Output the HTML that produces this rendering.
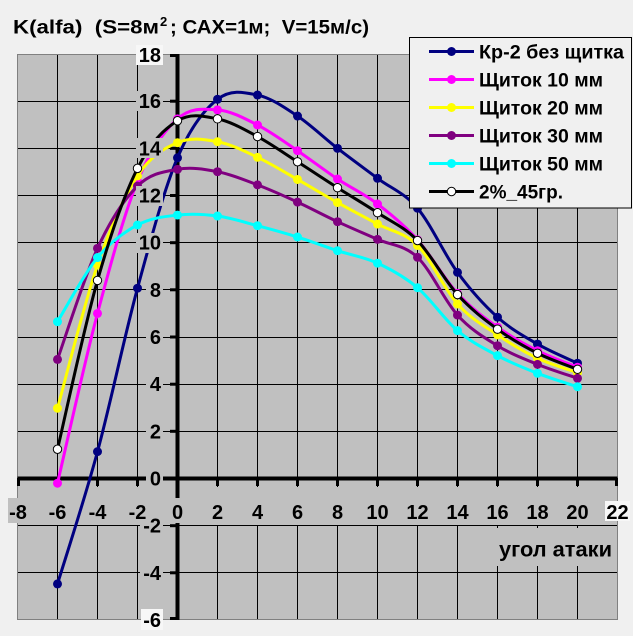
<!DOCTYPE html>
<html><head><meta charset="utf-8">
<style>
html,body{margin:0;padding:0;background:#f0f0f0;}
svg{display:block;}
text{font-family:"Liberation Sans","DejaVu Sans",sans-serif;font-weight:bold;fill:#000;}
</style></head>
<body>
<svg xmlns="http://www.w3.org/2000/svg" width="633" height="636" viewBox="0 0 633 636">
<rect x="0" y="0" width="633" height="636" fill="#f0f0f0"/>
<!-- plot area -->
<rect x="17.5" y="54" width="600" height="566" fill="#c0c0c0"/>
<!-- gridlines -->
<g stroke="#000" stroke-width="1" shape-rendering="crispEdges">
<line x1="57.5" y1="54" x2="57.5" y2="620"/>
<line x1="97.5" y1="54" x2="97.5" y2="620"/>
<line x1="137.5" y1="54" x2="137.5" y2="620"/>
<line x1="217.5" y1="54" x2="217.5" y2="620"/>
<line x1="257.5" y1="54" x2="257.5" y2="620"/>
<line x1="297.5" y1="54" x2="297.5" y2="620"/>
<line x1="337.5" y1="54" x2="337.5" y2="620"/>
<line x1="377.5" y1="54" x2="377.5" y2="620"/>
<line x1="417.5" y1="54" x2="417.5" y2="620"/>
<line x1="457.5" y1="54" x2="457.5" y2="620"/>
<line x1="497.5" y1="54" x2="497.5" y2="620"/>
<line x1="537.5" y1="54" x2="537.5" y2="620"/>
<line x1="577.5" y1="54" x2="577.5" y2="620"/>
<line x1="17.5" y1="101.5" x2="617.5" y2="101.5"/>
<line x1="17.5" y1="148.5" x2="617.5" y2="148.5"/>
<line x1="17.5" y1="195.5" x2="617.5" y2="195.5"/>
<line x1="17.5" y1="242.5" x2="617.5" y2="242.5"/>
<line x1="17.5" y1="289.5" x2="617.5" y2="289.5"/>
<line x1="17.5" y1="337.5" x2="617.5" y2="337.5"/>
<line x1="17.5" y1="384.5" x2="617.5" y2="384.5"/>
<line x1="17.5" y1="431.5" x2="617.5" y2="431.5"/>
<line x1="17.5" y1="525.5" x2="617.5" y2="525.5"/>
<line x1="17.5" y1="572.5" x2="617.5" y2="572.5"/>
</g>
<rect x="17.5" y="54.5" width="600" height="565" fill="none" stroke="#808080" stroke-width="1" shape-rendering="crispEdges"/>
<!-- label band breaks -->
<rect x="19" y="487" width="597" height="38" fill="#c0c0c0"/>
<rect x="493" y="528" width="124" height="38" fill="#c0c0c0"/>
<!-- axes -->
<g stroke="#000">
<line x1="17.5" y1="478.5" x2="617.5" y2="478.5" stroke-width="4"/>
<line x1="177.5" y1="54" x2="177.5" y2="620" stroke-width="4"/>
<g stroke-width="3">
<line x1="18.5" y1="478" x2="18.5" y2="486"/>
<line x1="57.5" y1="478" x2="57.5" y2="486"/>
<line x1="97.5" y1="478" x2="97.5" y2="486"/>
<line x1="137.5" y1="478" x2="137.5" y2="486"/>
<line x1="217.5" y1="478" x2="217.5" y2="486"/>
<line x1="257.5" y1="478" x2="257.5" y2="486"/>
<line x1="297.5" y1="478" x2="297.5" y2="486"/>
<line x1="337.5" y1="478" x2="337.5" y2="486"/>
<line x1="377.5" y1="478" x2="377.5" y2="486"/>
<line x1="417.5" y1="478" x2="417.5" y2="486"/>
<line x1="457.5" y1="478" x2="457.5" y2="486"/>
<line x1="497.5" y1="478" x2="497.5" y2="486"/>
<line x1="537.5" y1="478" x2="537.5" y2="486"/>
<line x1="577.5" y1="478" x2="577.5" y2="486"/>
<line x1="616.5" y1="478" x2="616.5" y2="486"/>
<line x1="170" y1="55.5" x2="178" y2="55.5"/>
<line x1="170" y1="101.2" x2="178" y2="101.2"/>
<line x1="170" y1="148.3" x2="178" y2="148.3"/>
<line x1="170" y1="195.5" x2="178" y2="195.5"/>
<line x1="170" y1="242.7" x2="178" y2="242.7"/>
<line x1="170" y1="289.8" x2="178" y2="289.8"/>
<line x1="170" y1="337" x2="178" y2="337"/>
<line x1="170" y1="384.2" x2="178" y2="384.2"/>
<line x1="170" y1="431.3" x2="178" y2="431.3"/>
<line x1="170" y1="525.7" x2="178" y2="525.7"/>
<line x1="170" y1="572.8" x2="178" y2="572.8"/>
<line x1="170" y1="618.5" x2="178" y2="618.5"/>
</g>
</g>
<!-- x label "0" box breaks y-axis; y label "0" box breaks x-axis -->
<rect x="171" y="498" width="14" height="25" fill="#c0c0c0"/>
<rect x="146" y="469" width="17" height="19" fill="#c0c0c0"/>

<!-- series in data coordinates -->
<g transform="matrix(20 0 0 -23.583 177.5 478.5)" stroke-linejoin="round" stroke-linecap="round">
<path id="s0" fill="none" stroke="#000080" stroke-width="3" vector-effect="non-scaling-stroke" d="M-6 -4.47 L-4 1.14 L-2 8.07 L0 13.6 L2 16.08 L4 16.26 L6 15.37 L8 14.0 L10 12.73 L12 11.46 L14 8.74 L16 6.84 L18 5.70 L20 4.89"/>
<g fill="#000080">
<ellipse cx="-6" cy="-4.47" rx="0.225" ry="0.19"/><ellipse cx="-4" cy="1.14" rx="0.225" ry="0.19"/><ellipse cx="-2" cy="8.07" rx="0.225" ry="0.19"/><ellipse cx="0" cy="13.6" rx="0.225" ry="0.19"/><ellipse cx="2" cy="16.08" rx="0.225" ry="0.19"/><ellipse cx="4" cy="16.26" rx="0.225" ry="0.19"/><ellipse cx="6" cy="15.37" rx="0.225" ry="0.19"/><ellipse cx="8" cy="14.0" rx="0.225" ry="0.19"/><ellipse cx="10" cy="12.73" rx="0.225" ry="0.19"/><ellipse cx="12" cy="11.46" rx="0.225" ry="0.19"/><ellipse cx="14" cy="8.74" rx="0.225" ry="0.19"/><ellipse cx="16" cy="6.84" rx="0.225" ry="0.19"/><ellipse cx="18" cy="5.70" rx="0.225" ry="0.19"/><ellipse cx="20" cy="4.89" rx="0.225" ry="0.19"/>
</g>
<path id="s1" fill="none" stroke="#ff00ff" stroke-width="3" vector-effect="non-scaling-stroke" d="M-6 -0.2 L-4 7.0 L-2 12.6 L0 15.25 L2 15.63 L4 14.99 L6 13.9 L8 12.7 L10 11.64 L12 10.12 L14 7.85 L16 6.42 L18 5.42 L20 4.72"/>
<g fill="#ff00ff">
<ellipse cx="-6" cy="-0.2" rx="0.225" ry="0.19"/><ellipse cx="-4" cy="7.0" rx="0.225" ry="0.19"/><ellipse cx="-2" cy="12.6" rx="0.225" ry="0.19"/><ellipse cx="0" cy="15.25" rx="0.225" ry="0.19"/><ellipse cx="2" cy="15.63" rx="0.225" ry="0.19"/><ellipse cx="4" cy="14.99" rx="0.225" ry="0.19"/><ellipse cx="6" cy="13.9" rx="0.225" ry="0.19"/><ellipse cx="8" cy="12.7" rx="0.225" ry="0.19"/><ellipse cx="10" cy="11.64" rx="0.225" ry="0.19"/><ellipse cx="12" cy="10.12" rx="0.225" ry="0.19"/><ellipse cx="14" cy="7.85" rx="0.225" ry="0.19"/><ellipse cx="16" cy="6.42" rx="0.225" ry="0.19"/><ellipse cx="18" cy="5.42" rx="0.225" ry="0.19"/><ellipse cx="20" cy="4.72" rx="0.225" ry="0.19"/>
</g>
<path id="s2" fill="none" stroke="#ffff00" stroke-width="3" vector-effect="non-scaling-stroke" d="M-6 2.98 L-4 9.05 L-2 12.83 L0 14.24 L2 14.28 L4 13.62 L6 12.68 L8 11.7 L10 10.79 L12 9.88 L14 7.4 L16 6.09 L18 5.1 L20 4.49"/>
<g fill="#ffff00">
<ellipse cx="-6" cy="2.98" rx="0.225" ry="0.19"/><ellipse cx="-4" cy="9.05" rx="0.225" ry="0.19"/><ellipse cx="-2" cy="12.83" rx="0.225" ry="0.19"/><ellipse cx="0" cy="14.24" rx="0.225" ry="0.19"/><ellipse cx="2" cy="14.28" rx="0.225" ry="0.19"/><ellipse cx="4" cy="13.62" rx="0.225" ry="0.19"/><ellipse cx="6" cy="12.68" rx="0.225" ry="0.19"/><ellipse cx="8" cy="11.7" rx="0.225" ry="0.19"/><ellipse cx="10" cy="10.79" rx="0.225" ry="0.19"/><ellipse cx="12" cy="9.88" rx="0.225" ry="0.19"/><ellipse cx="14" cy="7.4" rx="0.225" ry="0.19"/><ellipse cx="16" cy="6.09" rx="0.225" ry="0.19"/><ellipse cx="18" cy="5.1" rx="0.225" ry="0.19"/><ellipse cx="20" cy="4.49" rx="0.225" ry="0.19"/>
</g>
<path id="s3" fill="none" stroke="#800080" stroke-width="3" vector-effect="non-scaling-stroke" d="M-6 5.05 L-4 9.76 L-2 12.4 L0 13.11 L2 13.01 L4 12.45 L6 11.72 L8 10.89 L10 10.14 L12 9.38 L14 6.93 L16 5.63 L18 4.84 L20 4.25"/>
<g fill="#800080">
<ellipse cx="-6" cy="5.05" rx="0.225" ry="0.19"/><ellipse cx="-4" cy="9.76" rx="0.225" ry="0.19"/><ellipse cx="-2" cy="12.4" rx="0.225" ry="0.19"/><ellipse cx="0" cy="13.11" rx="0.225" ry="0.19"/><ellipse cx="2" cy="13.01" rx="0.225" ry="0.19"/><ellipse cx="4" cy="12.45" rx="0.225" ry="0.19"/><ellipse cx="6" cy="11.72" rx="0.225" ry="0.19"/><ellipse cx="8" cy="10.89" rx="0.225" ry="0.19"/><ellipse cx="10" cy="10.14" rx="0.225" ry="0.19"/><ellipse cx="12" cy="9.38" rx="0.225" ry="0.19"/><ellipse cx="14" cy="6.93" rx="0.225" ry="0.19"/><ellipse cx="16" cy="5.63" rx="0.225" ry="0.19"/><ellipse cx="18" cy="4.84" rx="0.225" ry="0.19"/><ellipse cx="20" cy="4.25" rx="0.225" ry="0.19"/>
</g>
<path id="s4" fill="none" stroke="#00ffff" stroke-width="3" vector-effect="non-scaling-stroke" d="M-6 6.65 L-4 9.37 L-2 10.75 L0 11.17 L2 11.13 L4 10.72 L6 10.24 L8 9.66 L10 9.13 L12 8.09 L14 6.27 L16 5.21 L18 4.46 L20 3.89"/>
<g fill="#00ffff">
<ellipse cx="-6" cy="6.65" rx="0.225" ry="0.19"/><ellipse cx="-4" cy="9.37" rx="0.225" ry="0.19"/><ellipse cx="-2" cy="10.75" rx="0.225" ry="0.19"/><ellipse cx="0" cy="11.17" rx="0.225" ry="0.19"/><ellipse cx="2" cy="11.13" rx="0.225" ry="0.19"/><ellipse cx="4" cy="10.72" rx="0.225" ry="0.19"/><ellipse cx="6" cy="10.24" rx="0.225" ry="0.19"/><ellipse cx="8" cy="9.66" rx="0.225" ry="0.19"/><ellipse cx="10" cy="9.13" rx="0.225" ry="0.19"/><ellipse cx="12" cy="8.09" rx="0.225" ry="0.19"/><ellipse cx="14" cy="6.27" rx="0.225" ry="0.19"/><ellipse cx="16" cy="5.21" rx="0.225" ry="0.19"/><ellipse cx="18" cy="4.46" rx="0.225" ry="0.19"/><ellipse cx="20" cy="3.89" rx="0.225" ry="0.19"/>
</g>
<path id="s5" fill="none" stroke="#000000" stroke-width="3" vector-effect="non-scaling-stroke" d="M-6 1.24 L-4 8.4 L-2 13.15 L0 15.17 L2 15.25 L4 14.5 L6 13.43 L8 12.33 L10 11.27 L12 10.09 L14 7.8 L16 6.33 L18 5.31 L20 4.63"/>
<g fill="#ffffff" stroke="#000" stroke-width="1" vector-effect="non-scaling-stroke">
<ellipse cx="-6" cy="1.24" rx="0.21" ry="0.178" vector-effect="non-scaling-stroke"/><ellipse cx="-4" cy="8.4" rx="0.21" ry="0.178" vector-effect="non-scaling-stroke"/><ellipse cx="-2" cy="13.15" rx="0.21" ry="0.178" vector-effect="non-scaling-stroke"/><ellipse cx="0" cy="15.17" rx="0.21" ry="0.178" vector-effect="non-scaling-stroke"/><ellipse cx="2" cy="15.25" rx="0.21" ry="0.178" vector-effect="non-scaling-stroke"/><ellipse cx="4" cy="14.5" rx="0.21" ry="0.178" vector-effect="non-scaling-stroke"/><ellipse cx="6" cy="13.43" rx="0.21" ry="0.178" vector-effect="non-scaling-stroke"/><ellipse cx="8" cy="12.33" rx="0.21" ry="0.178" vector-effect="non-scaling-stroke"/><ellipse cx="10" cy="11.27" rx="0.21" ry="0.178" vector-effect="non-scaling-stroke"/><ellipse cx="12" cy="10.09" rx="0.21" ry="0.178" vector-effect="non-scaling-stroke"/><ellipse cx="14" cy="7.8" rx="0.21" ry="0.178" vector-effect="non-scaling-stroke"/><ellipse cx="16" cy="6.33" rx="0.21" ry="0.178" vector-effect="non-scaling-stroke"/><ellipse cx="18" cy="5.31" rx="0.21" ry="0.178" vector-effect="non-scaling-stroke"/><ellipse cx="20" cy="4.63" rx="0.21" ry="0.178" vector-effect="non-scaling-stroke"/>
</g>
</g>

<!-- y-axis labels -->
<rect x="136" y="45" width="27" height="20" fill="#f7f7f7"/>
<g fill="#c0c0c0">
<rect x="136" y="91" width="27" height="20"/>
<rect x="136" y="138" width="27" height="20"/>
<rect x="136" y="186" width="27" height="20"/>
<rect x="136" y="233" width="27" height="20"/>
<rect x="146" y="280" width="17" height="20"/>
<rect x="146" y="327" width="17" height="20"/>
<rect x="146" y="374" width="17" height="20"/>
<rect x="146" y="421" width="17" height="20"/>
<rect x="140" y="516" width="23" height="20"/>
<rect x="140" y="563" width="23" height="20"/>
</g>
<rect x="141" y="609" width="22" height="21" fill="#f7f7f7"/>
<g font-size="20" text-anchor="end">
<text x="161" y="62">18</text>
<text x="161" y="108.2">16</text>
<text x="161" y="155.3">14</text>
<text x="161" y="202.5">12</text>
<text x="161" y="249.7">10</text>
<text x="161" y="296.8">8</text>
<text x="161" y="344">6</text>
<text x="161" y="391.2">4</text>
<text x="161" y="438.3">2</text>
<text x="161" y="485.5">0</text>
<text x="161" y="532.7">-2</text>
<text x="161" y="579.8">-4</text>
<text x="161" y="627">-6</text>
</g>

<!-- x-axis labels -->
<rect x="8" y="498" width="20" height="25" fill="#c0c0c0"/>
<rect x="605" y="501" width="25" height="20" fill="#f7f7f7"/>
<g font-size="20" text-anchor="middle">
<text x="18" y="519">-8</text>
<text x="57.5" y="519">-6</text>
<text x="97.5" y="519">-4</text>
<text x="137.5" y="519">-2</text>
<text x="177.5" y="519">0</text>
<text x="217.5" y="519">2</text>
<text x="257.5" y="519">4</text>
<text x="297.5" y="519">6</text>
<text x="337.5" y="519">8</text>
<text x="377.5" y="519">10</text>
<text x="417.5" y="519">12</text>
<text x="457.5" y="519">14</text>
<text x="497.5" y="519">16</text>
<text x="537.5" y="519">18</text>
<text x="577.5" y="519">20</text>
<text x="617.5" y="519">22</text>
</g>
<text x="499" y="556.5" font-size="21" textLength="113" lengthAdjust="spacingAndGlyphs">угол атаки</text>

<!-- legend -->
<rect x="409.5" y="37.5" width="222" height="170.5" fill="#f0f0f0" stroke="#000" stroke-width="1"/>
<g stroke-width="3">
<line x1="429" y1="51.5" x2="474" y2="51.5" stroke="#000080"/>
<line x1="429" y1="79.5" x2="474" y2="79.5" stroke="#ff00ff"/>
<line x1="429" y1="107.5" x2="474" y2="107.5" stroke="#ffff00"/>
<line x1="429" y1="135.5" x2="474" y2="135.5" stroke="#800080"/>
<line x1="429" y1="163.5" x2="474" y2="163.5" stroke="#00ffff"/>
<line x1="429" y1="191.5" x2="474" y2="191.5" stroke="#000000"/>
</g>
<circle cx="451.5" cy="51.5" r="4.5" fill="#000080"/>
<circle cx="451.5" cy="79.5" r="4.5" fill="#ff00ff"/>
<circle cx="451.5" cy="107.5" r="4.5" fill="#ffff00"/>
<circle cx="451.5" cy="135.5" r="4.5" fill="#800080"/>
<circle cx="451.5" cy="163.5" r="4.5" fill="#00ffff"/>
<circle cx="451.5" cy="191.5" r="4.2" fill="#ffffff" stroke="#000" stroke-width="1"/>
<g font-size="19">
<text x="479" y="58.5" textLength="145" lengthAdjust="spacingAndGlyphs">Кр-2 без щитка</text>
<text x="479" y="86.5" textLength="124" lengthAdjust="spacingAndGlyphs">Щиток 10 мм</text>
<text x="479" y="114.5" textLength="124" lengthAdjust="spacingAndGlyphs">Щиток 20 мм</text>
<text x="479" y="142.5" textLength="124" lengthAdjust="spacingAndGlyphs">Щиток 30 мм</text>
<text x="479" y="170.5" textLength="124" lengthAdjust="spacingAndGlyphs">Щиток 50 мм</text>
<text x="479" y="198.5" textLength="84" lengthAdjust="spacingAndGlyphs">2%_45гр.</text>
</g>

<!-- title -->
<g font-size="19">
<text x="13" y="33.3" xml:space="preserve" textLength="146" lengthAdjust="spacingAndGlyphs">K(alfa)  (S=8м</text>
<text x="160" y="26" font-size="13">2</text>
<text x="170" y="33.3" xml:space="preserve" textLength="199" lengthAdjust="spacingAndGlyphs">; САХ=1м;  V=15м/с)</text>
</g>
</svg>
<script>
(function(){
var xs=[-6,-4,-2,0,2,4,6,8,10,12,14,16,18,20];
var data={
s0:[-4.47,1.14,8.07,13.6,16.08,16.26,15.37,14.0,12.73,11.46,8.74,6.84,5.70,4.89],
s1:[-0.2,7.0,12.6,15.25,15.63,14.99,13.9,12.7,11.64,10.12,7.85,6.42,5.42,4.72],
s2:[2.98,9.05,12.83,14.24,14.28,13.62,12.68,11.7,10.79,9.88,7.4,6.09,5.1,4.49],
s3:[5.05,9.76,12.4,13.11,13.01,12.45,11.72,10.89,10.14,9.38,6.93,5.63,4.84,4.25],
s4:[6.65,9.37,10.75,11.17,11.13,10.72,10.24,9.66,9.13,8.09,6.27,5.21,4.46,3.89],
s5:[1.24,8.4,13.15,15.17,15.25,14.5,13.43,12.33,11.27,10.09,7.8,6.33,5.31,4.63]
};
for(var id in data){
 var ys=data[id],n=ys.length,d='M'+xs[0]+' '+ys[0];
 for(var i=0;i<n-1;i++){
  var i0=Math.max(i-1,0),i3=Math.min(i+2,n-1);
  var c1x=xs[i]+(xs[i+1]-xs[i0])/6,c1y=ys[i]+(ys[i+1]-ys[i0])/6;
  var c2x=xs[i+1]-(xs[i3]-xs[i])/6,c2y=ys[i+1]-(ys[i3]-ys[i])/6;
  d+=' C'+c1x.toFixed(4)+' '+c1y.toFixed(4)+' '+c2x.toFixed(4)+' '+c2y.toFixed(4)+' '+xs[i+1]+' '+ys[i+1];
 }
 var el=document.getElementById(id); if(el) el.setAttribute('d',d);
}
})();
</script>
</body></html>
